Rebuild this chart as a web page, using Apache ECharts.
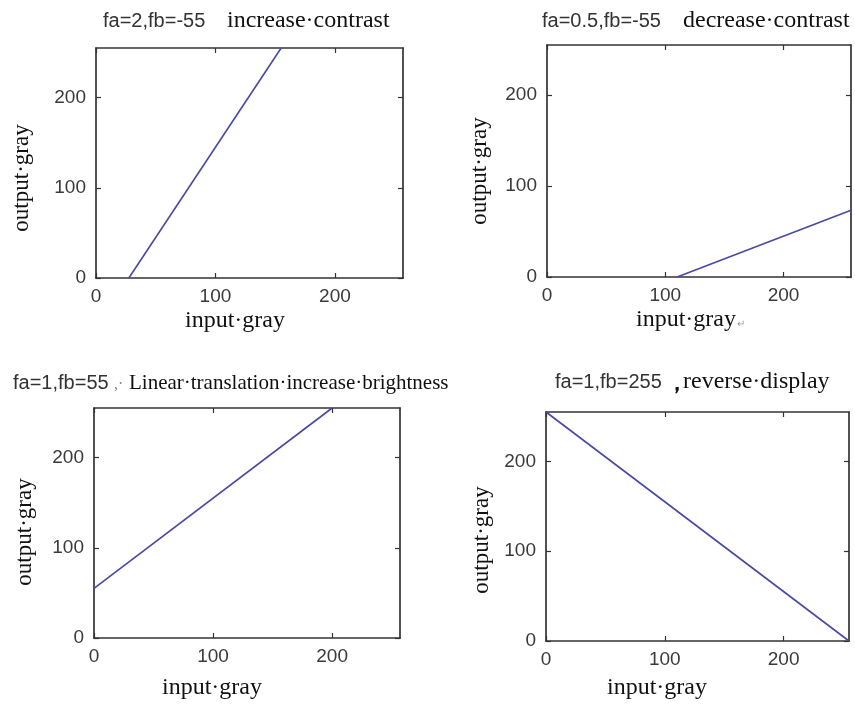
<!DOCTYPE html>
<html>
<head>
<meta charset="utf-8">
<script src="https://cdn.jsdelivr.net/npm/echarts@6/dist/echarts.min.js"></script>
<style>
  html, body { margin: 0; padding: 0; background: #fff; }
  #chart { width: 855px; height: 705px; }
</style>
</head>
<body>
<div id="chart"></div>
<script>
// Gray-level linear transforms: out = fa * in + fb, clipped to [0, 255]
const tickValues = [0, 100, 200];

const inputIncrease = [27.5, 155];
const outputIncrease = [0, 255];

const inputDecrease = [110, 257];
const outputDecrease = [0, 73.5];

const inputShift = [0, 200];
const outputShift = [55, 255];

const inputReverse = [0, 255];
const outputReverse = [255, 0];

const paramLabels = ['fa=2,fb=-55', 'fa=0.5,fb=-55', 'fa=1,fb=55', 'fa=1,fb=255'];
const effectLabels = ['increase·contrast', 'decrease·contrast', 'Linear·translation·increase·brightness', 'reverse·display'];
const separators = ['', '', ',·', '，'];
const xNames = ['input·gray', 'input·gray', 'input·gray', 'input·gray'];
const yName = 'output·gray';

const inputs = [inputIncrease, inputDecrease, inputShift, inputReverse];
const outputs = [outputIncrease, outputDecrease, outputShift, outputReverse];
const xMax = [257, 257, 257, 255];
const yMax = 255;

// layout of the four plot boxes
const boxes = [
  { left: 96, top: 48, width: 307, height: 230 },
  { left: 547, top: 45, width: 304, height: 232 },
  { left: 94, top: 408, width: 306, height: 230 },
  { left: 546, top: 412, width: 303, height: 229 }
];

const SANS = '"Liberation Sans", Arial, Helvetica, sans-serif';
const SERIF = '"Liberation Serif", "Times New Roman", serif';
const boxColor = '#333333';
const lineColor = '#4a48a3';

const grid = [], xAxis = [], yAxis = [], series = [];

boxes.forEach((b, i) => {
  grid.push(Object.assign({ containLabel: false }, b));
  const lineStyle = { color: boxColor, width: 1.7 };
  const tick = { show: true, inside: true, length: 5, lineStyle: { color: boxColor, width: 1.2 }, customValues: tickValues };
  const label = { show: true, color: '#3a3a3a', fontFamily: SANS, fontSize: 19, margin: 9, customValues: tickValues };
  // bottom / top
  xAxis.push({ type: 'value', gridIndex: i, position: 'bottom', min: 0, max: xMax[i],
    axisLine: { show: true, onZero: false, lineStyle }, axisTick: tick, axisLabel: label, splitLine: { show: false } });
  xAxis.push({ type: 'value', gridIndex: i, position: 'top', min: 0, max: xMax[i],
    axisLine: { show: true, onZero: false, lineStyle }, axisTick: tick, axisLabel: { show: false }, splitLine: { show: false } });
  // left / right
  yAxis.push({ type: 'value', gridIndex: i, position: 'left', min: 0, max: yMax,
    axisLine: { show: true, onZero: false, lineStyle }, axisTick: tick,
    axisLabel: Object.assign({}, label, { margin: 10 }), splitLine: { show: false } });
  yAxis.push({ type: 'value', gridIndex: i, position: 'right', min: 0, max: yMax,
    axisLine: { show: true, onZero: false, lineStyle }, axisTick: tick, axisLabel: { show: false }, splitLine: { show: false } });

  series.push({
    type: 'line',
    xAxisIndex: i * 2,
    yAxisIndex: i * 2,
    data: inputs[i].map((x, k) => [x, outputs[i][k]]),
    showSymbol: false,
    clip: true,
    lineStyle: { color: lineColor, width: 1.6 },
    silent: true
  });
});

// titles and axis names
const titleSpots = [
  { px: 103, ex: 227, y: 21, sx: null },
  { px: 542, ex: 683, y: 21, sx: null },
  { px: 13, ex: 129, y: 383, sx: 114 },
  { px: 555, ex: 683, y: 382, sx: 666 }
];
const xNameSpots = [[235, 321], [686, 320], [212, 688], [657, 688]];
const yNameSpots = [[22, 178], [480, 171], [25, 532], [482, 540]];

const graphic = [];
titleSpots.forEach((t, i) => {
  graphic.push({ type: 'text', x: t.px, y: t.y,
    style: { text: paramLabels[i], font: '20px ' + SANS, fill: '#333', textAlign: 'left', textVerticalAlign: 'middle' } });
  if (separators[i]) {
    graphic.push({ type: 'text', x: t.sx, y: t.y + 2,
      style: { text: separators[i], font: (i === 3 ? 'bold 22px ' : '16px ') + SERIF, fill: i === 3 ? '#111' : '#888', textAlign: 'left', textVerticalAlign: 'middle' } });
  }
  graphic.push({ type: 'text', x: t.ex, y: t.y,
    style: { text: effectLabels[i], font: (i === 2 ? '21px ' : '24px ') + SERIF, fill: '#111', textAlign: 'left', textVerticalAlign: 'middle' } });
});
xNameSpots.forEach((p, i) => {
  graphic.push({ type: 'text', x: p[0], y: p[1],
    style: { text: xNames[i], font: '24px ' + SERIF, fill: '#111', textAlign: 'center', textVerticalAlign: 'middle' } });
});
// small paragraph mark after the second x-axis name
graphic.push({ type: 'text', x: 741, y: 324,
  style: { text: '↵', font: '10px ' + SANS, fill: '#999', textAlign: 'center', textVerticalAlign: 'middle' } });
yNameSpots.forEach((p) => {
  graphic.push({ type: 'text', x: p[0], y: p[1], rotation: Math.PI / 2,
    style: { text: yName, font: '23px ' + SERIF, fill: '#111', textAlign: 'center', textVerticalAlign: 'middle' } });
});

const chart = echarts.init(document.getElementById('chart'), null, { renderer: 'canvas' });
chart.setOption({
  animation: false,
  backgroundColor: '#ffffff',
  grid, xAxis, yAxis, series, graphic
});
</script>
</body>
</html>
